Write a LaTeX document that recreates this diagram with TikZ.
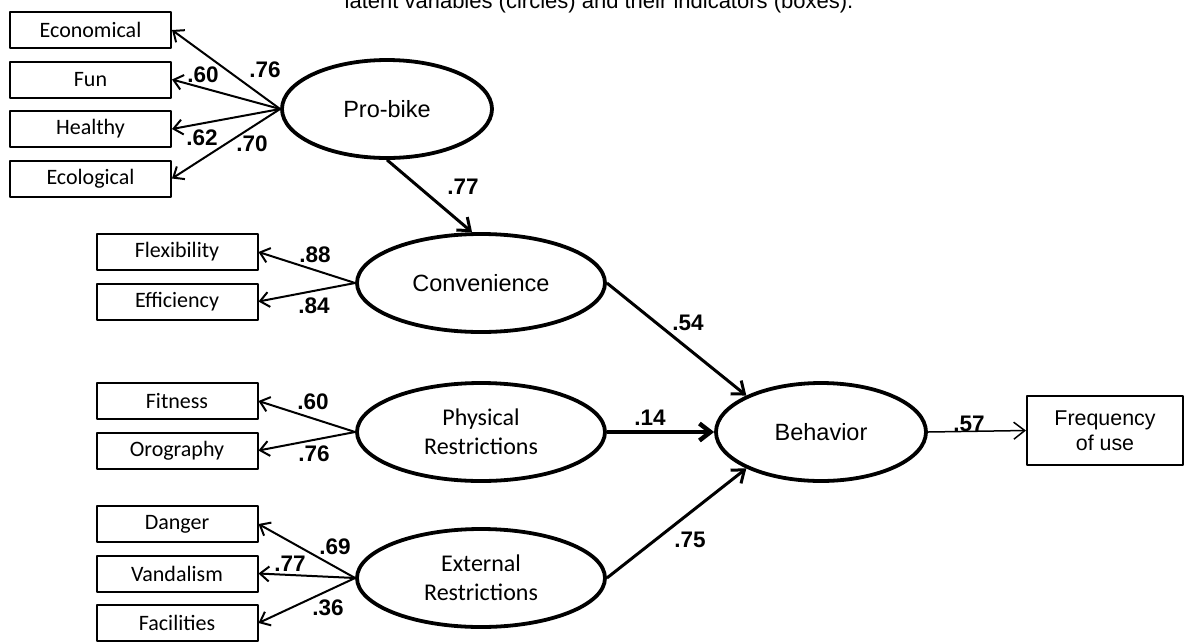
\documentclass[tikz,border=0pt]{standalone}
\usepackage{fontspec}
\newfontfamily\arialfont{Liberation Sans}
\newfontfamily\calibrifont{Carlito}
\usetikzlibrary{arrows.meta,positioning,shapes.geometric}
\tikzset{
	sem diagram/.style={
		x=1pt, y=1pt,
		node distance=11.5pt,
		line join=round},
	latent/.style={ellipse, draw, line width=3.8pt, minimum height=98pt,
		inner sep=1pt, align=center,
		font=\arialfont\fontsize{23.5}{28}\selectfont},
	small latent/.style={latent, minimum width=210pt},
	wide latent/.style={latent, minimum width=248pt},
	two line/.style={font=\calibrifont\fontsize{24}{29}\selectfont},
	indicator/.style={rectangle, draw, line width=2pt,
		minimum width=161pt, minimum height=36pt, inner sep=0pt,
		font=\calibrifont\fontsize{22}{26}\selectfont},
	outcome/.style={rectangle, draw, line width=2pt, align=center,
		minimum width=156pt, minimum height=69pt, inner sep=0pt,
		font=\arialfont\fontsize{21.4}{25}\selectfont},
	loading/.style={-{Straight Barb[length=9pt,width=15pt]}, line width=2pt},
	effect/.style={-{Straight Barb[length=11pt,width=17pt]}, line width=3pt},
	coef/.style={font=\arialfont\bfseries\fontsize{22.5}{25}\selectfont, inner sep=0pt},
	caption/.style={font=\arialfont\fontsize{22}{26}\selectfont, inner sep=0pt}
}

\begin{document}
\begin{tikzpicture}[sem diagram]
	\useasboundingbox (0,0) rectangle (1184,-641);
	\node[caption, anchor=base] (cap) at (599,-8) {latent variables (circles) and their indicators (boxes).};
	% latent variables
	\node[small latent] (probike) at (387,-109) {Pro-bike};
	\node[wide latent] (conv) at (481,-283) {Convenience};
	\node[wide latent, two line] (phys) at (481,-432) {Physical\\Restrictions};
	\node[wide latent, two line] (ext) at (481,-578) {External\\Restrictions};
	\node[small latent] (behav) at (821,-432) {Behavior};
	% indicators
	\node[indicator] (econ) at (90.5,-30) {Economical};
	\node[indicator, below=of econ] (fun) {Fun};
	\node[indicator, below=of fun] (health) {Healthy};
	\node[indicator, below=of health] (ecol) {Ecological};
	\node[indicator] (flex) at (177,-252) {Flexibility};
	\node[indicator, below=of flex] (effic) {Efficiency};
	\node[indicator] (fit) at (177,-401) {Fitness};
	\node[indicator, below=of fit] (oro) {Orography};
	\node[indicator] (danger) at (177,-524) {Danger};
	\node[indicator, below=of danger] (vand) {Vandalism};
	\node[indicator, below=of vand] (facil) {Facilities};
	\node[outcome] (freq) at (1105,-430.5) {Frequency\\of use};
	% loadings
	\foreach \ind in {econ,fun,health,ecol}
		\draw[loading] (probike.west) -- (\ind.east);
	\foreach \ind in {flex,effic}
		\draw[loading] (conv.west) -- (\ind.east);
	\foreach \ind in {fit,oro}
		\draw[loading] (phys.west) -- (\ind.east);
	\foreach \ind in {danger,vand,facil}
		\draw[loading] (ext.west) -- (\ind.east);
	% structural paths
	\draw[effect] (probike.south) -- (conv.100);
	\draw[effect] (conv.east) -- (behav.154);
	\draw[effect, line width=4.5pt] (phys.east) -- (behav.west);
	\draw[effect] (ext.east) -- (behav.206);
	\draw[effect, line width=1.5pt] (behav.east) -- (freq.west);
	% coefficients
	\draw[coef]
		node (c-econ) at (265,-70) {.76}
		node (c-fun) at (203,-75) {.60}
		node (c-health) at (202,-138) {.62}
		node (c-ecol) at (252,-144) {.70}
		node (c-flex) at (315,-255) {.88}
		node (c-effic) at (314,-306) {.84}
		node (c-fit) at (313,-402) {.60}
		node (c-oro) at (314,-454) {.76}
		node (c-danger) at (335,-547) {.69}
		node (c-vand) at (290,-564) {.77}
		node (c-facil) at (328,-608) {.36}
		node (c-conv) at (463,-187) {.77}
		node (c-bconv) at (688,-323) {.54}
		node (c-bphys) at (650,-418) {.14}
		node (c-bext) at (690,-540) {.75}
		node (c-freq) at (969,-424) {.57};
\end{tikzpicture}
\end{document}
